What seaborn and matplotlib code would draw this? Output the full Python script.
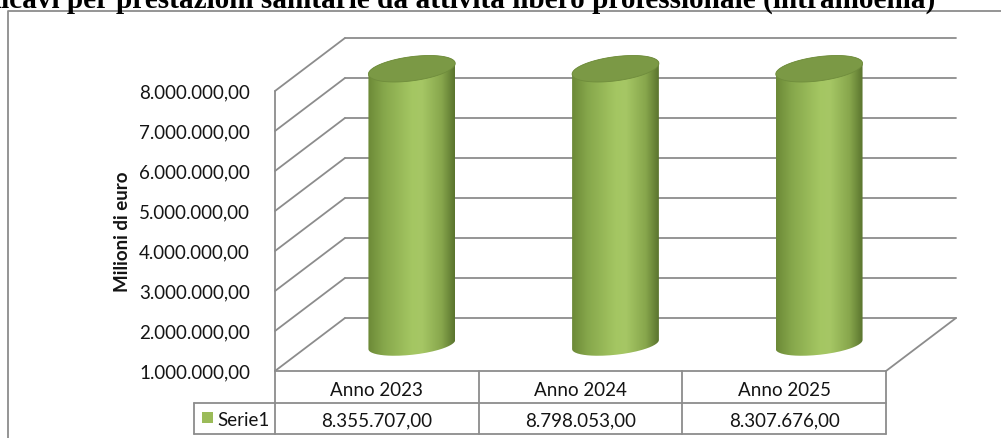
import numpy as np
import pandas as pd
import matplotlib
matplotlib.use("Agg")
import matplotlib.pyplot as plt
import matplotlib.transforms as mtransforms
from matplotlib.path import Path
from matplotlib.patches import PathPatch, Polygon, Rectangle
from matplotlib.lines import Line2D
from matplotlib.colors import LinearSegmentedColormap
import seaborn as sns

# ---- data -----------------------------------------------------------------
title = "Ricavi per prestazioni sanitarie da attività libero professionale (intramoenia)"
categories = ["Anno 2023", "Anno 2024", "Anno 2025"]
values = [8355707.00, 8798053.00, 8307676.00]
series_name = "Serie1"
y_label = "Milioni di euro"
y_ticks = [1000000, 2000000, 3000000, 4000000, 5000000, 6000000, 7000000, 8000000]

Y_MIN, Y_MAX = 1000000, 8000000


def it_number(v):
    """Italian number format: 8.355.707,00"""
    s = f"{v:,.2f}"
    return s.replace(",", "#").replace(".", ",").replace("#", ".")


# ---- figure / layout (pixels) -----------------------------------------------
W, H = 1001, 438
sns.set_theme(style="white")
plt.rcParams["font.family"] = ["Lato", "DejaVu Sans"]

fig = plt.figure(figsize=(W / 100, H / 100), dpi=100)
fig.patch.set_facecolor("white")

# pixel transform: x to the right, y from the top of the figure
pix = mtransforms.Affine2D().scale(1 / W, -1 / H).translate(0, 1) + fig.transFigure

FX0, FX1 = 275, 886      # front plane left / right
FY0, FY1 = 371, 91       # front plane y of Y_MIN / Y_MAX
DXP, DYP = 70, 53        # depth offset of the back wall

ncat = len(categories)
unit_px = (FX1 - FX0) / ncat
depth_x = DXP / unit_px
depth_y = DYP * (Y_MAX - Y_MIN) / (FY0 - FY1)

ax = fig.add_axes([FX0 / W, (H - FY0) / H, (FX1 - FX0 + DXP) / W, (FY0 - FY1 + DYP) / H])

GRID = "#8C8C8C"
GLW = 1.3
TEXT = "#141414"

# ---- bars (seaborn) ----------------------------------------------------------
df = pd.DataFrame({"anno": categories, "valore": np.minimum(values, Y_MAX)})
sns.barplot(data=df, x="anno", y="valore", ax=ax, width=0.39, color="#9BBB59")
bars = list(ax.patches)

# ---- 3D walls and gridlines ----------------------------------------------------
x_left, x_right = -0.5, ncat - 0.5
for v in y_ticks:
    ax.plot([x_left, x_left + depth_x], [v, v + depth_y], color=GRID, lw=GLW,
            zorder=1, clip_on=False, solid_capstyle="round")
    ax.plot([x_left + depth_x, x_right + depth_x], [v + depth_y, v + depth_y],
            color=GRID, lw=GLW, zorder=1, clip_on=False)
ax.plot([x_left, x_left], [Y_MIN, Y_MAX], color=GRID, lw=GLW, zorder=1, clip_on=False)
ax.plot([x_right, x_right + depth_x], [Y_MIN, Y_MIN + depth_y], color=GRID, lw=GLW,
        zorder=1, clip_on=False)

# ---- cylinders --------------------------------------------------------------
body_cmap = LinearSegmentedColormap.from_list(
    "olive",
    [(0.0, "#6C8937"), (0.18, "#86A74B"), (0.5, "#A4C662"), (0.62, "#A6C765"),
     (0.85, "#87A64C"), (1.0, "#5A742E")])
TOP_COLOR = "#7B9945"
RD = 0.25   # depth radius of the cylinder, as a share of the floor depth

for bar in bars:
    bar.set_visible(False)
    a = bar.get_width() / 2
    cx = bar.get_x() + a + depth_x / 2
    top = bar.get_height()
    y_top = top + depth_y * 0.42
    y_bot = Y_MIN + depth_y / 2
    ex, ey = RD * depth_x, RD * depth_y
    th_r = np.arctan2(ex, a)

    def ell(th, cy, ey=ey):
        return np.column_stack([cx + a * np.cos(th) + ex * np.sin(th), cy + ey * np.sin(th)])

    t_front = np.linspace(th_r + np.pi, th_r + 2 * np.pi, 80)
    t_back = np.linspace(th_r, th_r + np.pi, 80)
    outline = np.vstack([ell(t_front, y_bot, ey * 0.85), ell(t_back, y_top)])
    body = PathPatch(Path(outline, closed=False), facecolor="none", edgecolor="none",
                     transform=ax.transData)
    ax.add_patch(body)

    half = np.hypot(a, ex)
    grad = body_cmap(np.linspace(0, 1, 256))[None, :, :3]
    im = ax.imshow(grad, extent=[cx - half, cx + half, y_bot - ey, y_top + ey],
                   aspect="auto", zorder=3, interpolation="bilinear")
    im.set_clip_path(body)

    t_all = np.linspace(0, 2 * np.pi, 160)
    ax.add_patch(Polygon(ell(t_all, y_top), closed=True, facecolor=TOP_COLOR,
                         edgecolor="#6F8C3C", lw=0.6, zorder=4))

# ---- axes styling ---------------------------------------------------------------
ax.set_xlim(x_left, x_right + depth_x)
ax.set_ylim(Y_MIN, Y_MAX + depth_y)
ax.set_xticks([])
ax.set_yticks(y_ticks)
ax.set_yticklabels([it_number(v) for v in y_ticks])
ax.tick_params(axis="y", length=0, pad=18, labelsize=13.5, labelcolor=TEXT)
ax.set_xlabel("")
ax.set_ylabel("")
for s in ax.spines.values():
    s.set_visible(False)
ax.patch.set_alpha(0)

fig.text(123, 232, y_label, transform=pix, rotation=90, ha="center", va="center",
         fontsize=13.5, fontweight="bold", color=TEXT)

# ---- data table ----------------------------------------------------------------
tx = mtransforms.blended_transform_factory(ax.transData, pix)
ROW0, ROW1, ROW2 = 371, 403, 434
LEG_X = 194
leg_x_data = x_left + (LEG_X - FX0) / unit_px

def tline(xs, ys):
    fig.add_artist(Line2D(xs, ys, transform=tx, color=GRID, lw=GLW))

tline([x_left, x_right], [ROW0, ROW0])
tline([leg_x_data, x_right], [ROW1, ROW1])
tline([leg_x_data, x_right], [ROW2, ROW2])
tline([leg_x_data, leg_x_data], [ROW1, ROW2])
tline([x_left, x_left], [ROW0, ROW2])
for i in range(ncat):
    tline([i + 0.5, i + 0.5], [ROW0, ROW2])

for i, (cat, v) in enumerate(zip(categories, values)):
    fig.text(i, (ROW0 + ROW1) / 2 + 4, cat, transform=tx, ha="center", va="center",
             fontsize=13.5, color=TEXT)
    fig.text(i, (ROW1 + ROW2) / 2 + 2.5, it_number(v), transform=tx, ha="center",
             va="center", fontsize=13.5, color=TEXT)

fig.add_artist(Rectangle((202, 412), 11, 11, transform=pix, facecolor="#9BBB59",
                         edgecolor="none"))
fig.text(217, (ROW1 + ROW2) / 2 + 2.5, series_name, transform=pix, ha="left",
         va="center", fontsize=13.5, color=TEXT)

# ---- outer chart frame ------------------------------------------------------------
fig.add_artist(Line2D([8, 8, W + 5], [H + 5, 11, 11], transform=pix, color="#8C8C8C", lw=1.3))

# ---- title (runs past the top edge) ----------------------------------------------
tfont = dict(family=["Liberation Serif", "DejaVu Serif"], weight="bold")
renderer = fig.canvas.get_renderer()
probe = fig.text(0, 0, title, fontsize=18, **tfont)
probe_r = fig.text(0, 0, title[0], fontsize=18, **tfont)
w_full = probe.get_window_extent(renderer).width
w_r = probe_r.get_window_extent(renderer).width
probe.remove()
probe_r.remove()
size = 18 * 934 / (w_full - w_r)
w_r_scaled = w_r * size / 18
fig.text(1 - w_r_scaled, 7.5, title, transform=pix, ha="left", va="baseline",
         fontsize=size, color="black", **tfont)

fig.savefig("out.png", dpi=100, facecolor="white")
